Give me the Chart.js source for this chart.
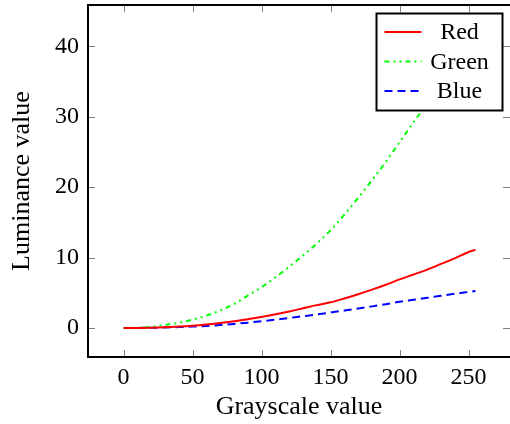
<!DOCTYPE html>
<html lang="en">
<head>
    <meta charset="UTF-8">
    <title>Luminance vs grayscale</title>
    <script src="https://cdn.jsdelivr.net/npm/chart.js"></script>
    <style>
        html, body { margin: 0; padding: 0; background: #fff; }
        .container { width: 510px; height: 424px; position: relative; }
    </style>
</head>
<body>
<div class="container">
    <canvas id="lumChart" width="510" height="424"></canvas>
</div>

<script>
const grayscale = [0, 10, 20, 30, 40, 50, 60, 70, 80, 90, 100, 110, 120, 130, 140,
                   150, 160, 170, 180, 190, 200, 210, 220, 230, 240, 250, 255];
const redLum   = [0, 0.01, 0.04, 0.1, 0.2, 0.33, 0.5, 0.7, 0.95, 1.25, 1.57, 1.95, 2.35, 2.8, 3.25,
                  3.65, 4.2, 4.8, 5.45, 6.15, 6.9, 7.6, 8.3, 9.1, 9.9, 10.8, 11.1];
const greenLum = [0, 0.02, 0.15, 0.45, 0.75, 1.2, 1.75, 2.5, 3.4, 4.6, 5.8, 7.2, 8.7, 10.3, 12.0,
                  13.9, 16.1, 18.5, 21.0, 23.6, 26.4, 29.2, 31.9, 34.7, 37.6, 40.5, 41.8];
const blueLum  = [0, 0.01, 0.03, 0.07, 0.13, 0.2, 0.3, 0.42, 0.58, 0.76, 0.95, 1.18, 1.42, 1.67, 1.92,
                  2.2, 2.48, 2.78, 3.07, 3.38, 3.72, 4.0, 4.28, 4.58, 4.86, 5.12, 5.25];
const xTicks = [0, 50, 100, 150, 200, 250];
const yTicks = [0, 10, 20, 30, 40];
const seriesNames = ['Red', 'Green', 'Blue'];

const serif = "'Liberation Serif', 'DejaVu Serif', serif";

function points(ys) {
    return grayscale.map((g, i) => ({ x: g, y: ys[i] }));
}

// frame, inner ticks and the boxed legend
const framePlugin = {
    id: 'frame',
    afterDraw(chart) {
        const ctx = chart.ctx;
        const a = chart.chartArea;
        const x = chart.scales.x, y = chart.scales.y;
        ctx.save();

        ctx.strokeStyle = '#808080';
        ctx.lineWidth = 1;
        ctx.beginPath();
        xTicks.forEach(v => {
            const px = Math.round(x.getPixelForValue(v)) + 0.5;
            ctx.moveTo(px, a.bottom); ctx.lineTo(px, a.bottom - 7);
            ctx.moveTo(px, a.top); ctx.lineTo(px, a.top + 7);
        });
        yTicks.forEach(v => {
            const py = Math.round(y.getPixelForValue(v)) + 0.5;
            ctx.moveTo(a.left, py); ctx.lineTo(a.left + 7, py);
            ctx.moveTo(a.right, py); ctx.lineTo(a.right - 7, py);
        });
        ctx.stroke();

        ctx.strokeStyle = '#000';
        ctx.lineWidth = 2;
        ctx.beginPath();
        ctx.moveTo(a.right + 2, a.top);
        ctx.lineTo(a.left, a.top);
        ctx.lineTo(a.left, a.bottom);
        ctx.lineTo(a.right + 2, a.bottom);
        ctx.stroke();

        // legend box
        const bx = 376.5, by = 13.5, bw = 126, bh = 97;
        ctx.fillStyle = '#fff';
        ctx.fillRect(bx, by, bw, bh);
        ctx.lineWidth = 2;
        ctx.strokeRect(bx, by, bw, bh);
        const rows = [32, 61.5, 91];
        ctx.font = '24px ' + serif;
        ctx.textAlign = 'center';
        ctx.textBaseline = 'middle';
        chart.data.datasets.forEach((ds, i) => {
            ctx.strokeStyle = ds.borderColor;
            ctx.lineWidth = ds.borderWidth;
            ctx.setLineDash(ds.borderDash || []);
            ctx.beginPath();
            ctx.moveTo(bx + 8, rows[i]);
            ctx.lineTo(bx + 45, rows[i]);
            ctx.stroke();
            ctx.setLineDash([]);
            ctx.fillStyle = '#000';
            ctx.fillText(seriesNames[i], bx + 83, rows[i] + 1);
        });
        ctx.restore();
    }
};

const ctxLum = document.getElementById('lumChart').getContext('2d');
const lumChart = new Chart(ctxLum, {
    type: 'line',
    data: {
        datasets: [{
            label: seriesNames[0],
            data: points(redLum),
            borderColor: '#ff0000',
            borderWidth: 2,
            pointRadius: 0,
            cubicInterpolationMode: 'monotone'
        }, {
            label: seriesNames[1],
            data: points(greenLum),
            borderColor: '#00ff00',
            borderWidth: 2,
            borderDash: [5, 4, 2, 4, 2, 4],
            pointRadius: 0,
            cubicInterpolationMode: 'monotone'
        }, {
            label: seriesNames[2],
            data: points(blueLum),
            borderColor: '#0000ff',
            borderWidth: 2,
            borderDash: [8, 5],
            pointRadius: 0,
            cubicInterpolationMode: 'monotone'
        }]
    },
    options: {
        responsive: false,
        animation: false,
        layout: { padding: { top: 5, right: 0, left: 0, bottom: 0 } },
        plugins: {
            legend: { display: false },
            tooltip: { enabled: false }
        },
        scales: {
            x: {
                type: 'linear',
                min: -25.8,
                max: 280,
                afterBuildTicks: s => { s.ticks = xTicks.map(v => ({ value: v })); },
                afterFit: s => { s.height = 67; s.paddingLeft = 0; s.paddingRight = 0; },
                grid: { display: false, drawTicks: false },
                border: { display: false },
                ticks: { font: { family: serif, size: 24 }, color: '#000', padding: 6, maxRotation: 0 },
                title: { display: true, text: 'Grayscale value', color: '#000',
                         font: { family: serif, size: 26 }, padding: { top: 0, bottom: 1 } }
            },
            y: {
                type: 'linear',
                min: -4.12,
                max: 45.88,
                afterBuildTicks: s => { s.ticks = yTicks.map(v => ({ value: v })); },
                afterFit: s => { s.width = 88; s.paddingTop = 0; s.paddingBottom = 0; },
                grid: { display: false, drawTicks: false },
                border: { display: false },
                ticks: { font: { family: serif, size: 24 }, color: '#000', padding: 9 },
                title: { display: true, text: 'Luminance value', color: '#000',
                         font: { family: serif, size: 26 }, padding: { top: 7, bottom: 0 } }
            }
        }
    },
    plugins: [framePlugin]
});
</script>
</body>
</html>
